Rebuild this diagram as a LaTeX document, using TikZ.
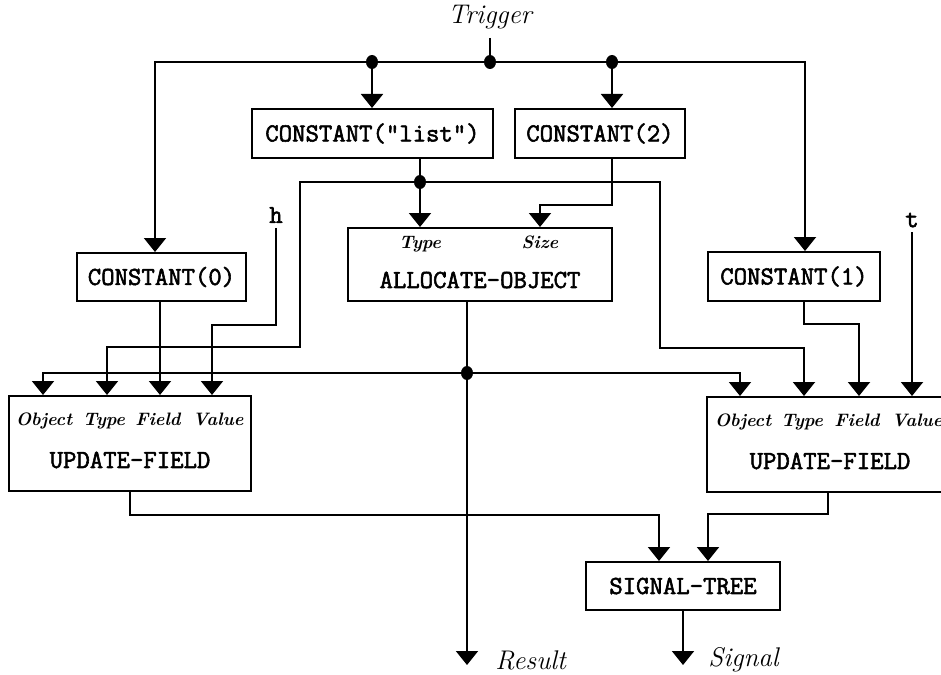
\documentclass[tikz,border=0pt]{standalone}
\usepackage{fontspec}
\usetikzlibrary{arrows.meta}
\newfontfamily\boxfont{Latin Modern Mono}[FakeBold=2.2]
\def\jdot#1{\fill (#1) circle[x radius=3pt, y radius=3.5pt];}
\tikzset{
  box/.style={draw, line width=1pt, inner sep=0pt, font=\boxfont\bfseries\fontsize{13}{15}\selectfont},
  var/.style={inner sep=0pt, outer sep=2.5pt, font=\boxfont\bfseries\fontsize{13}{15}\selectfont},
  port/.style={inner sep=0pt, anchor=base, font=\bfseries\itshape\fontsize{9}{10}\selectfont},
  io/.style={inner sep=0pt, font=\itshape\fontsize{13.5}{15}\selectfont},
  wire/.style={line width=1pt},
  feed/.style={wire, -{Triangle[width=11pt,length=7pt]}},
}

\begin{document}
\begin{tikzpicture}[x=0.5pt, y=-0.5pt]
  \useasboundingbox (0,0) rectangle (941,674);

  \node[io, outer sep=4.5pt] (trig) at (490,17) {Trigger};
  \node[box, minimum width=120.5pt, minimum height=24.5pt] (cList) at (372.5,133.5) {CONSTANT("list")};
  \node[box, minimum width=85pt, minimum height=24.5pt] (cTwo) at (600,133.5) {CONSTANT(2)};
  \node[box, minimum width=84.5pt, minimum height=24pt] (cZero) at (161.5,277) {CONSTANT(0)};
  \node[box, minimum width=86pt, minimum height=24.5pt] (cOne) at (794,276.5) {CONSTANT(1)};
  \node[box, minimum width=132pt, minimum height=36.5pt] (alloc) at (480,264.5) {};
  \node[box, minimum width=121pt, minimum height=47.5pt] (updL) at (130,443.5) {};
  \node[box, minimum width=121pt, minimum height=47.5pt] (updR) at (828,444.5) {};
  \node[box, minimum width=97pt, minimum height=24pt] (sigT) at (683,586) {SIGNAL-TREE};

  % texts inside the boxes
  \node[port] (aType) at (420,248) {Type};
  \node[port] (aSize) at (540,248) {Size};
  \node[var] (aName) at (480,280) {ALLOCATE-OBJECT};
  \node[port] (lObj) at (44,425) {Object};
  \node[port] (lType) at (104,425) {Type};
  \node[port] (lField) at (158,425) {Field};
  \node[port] (lVal) at (218,425) {Value};
  \node[var] (lName) at (130,460) {UPDATE-FIELD};
  \node[port] (rObj) at (743,426) {Object};
  \node[port] (rType) at (802,426) {Type};
  \node[port] (rField) at (857,426) {Field};
  \node[port] (rVal) at (917,426) {Value};
  \node[var] (rName) at (830,461) {UPDATE-FIELD};

  \node[var] (hVar) at (276,215) {h};
  \node[var] (tVar) at (912,220) {t};
  \node[io, anchor=west] (resOut) at (495,660) {Result};
  \node[io, anchor=west] (sigOut) at (708,660) {Signal};

  % junctions and bends
  \coordinate (jTrig) at (490,62);
  \coordinate (jList) at (372,62);
  \coordinate (jTwo) at (612,62);
  \coordinate (bL) at (155,62);
  \coordinate (bR) at (805,62);
  \coordinate (jType) at (420,182);
  \coordinate (bTypeL) at (300,182);
  \coordinate (bTypeR) at (660,182);
  \coordinate (pSize) at (540,205);
  \coordinate (jObj) at (467,373);
  \coordinate (resEnd) at (467,665);
  \coordinate (pLobj) at (43,373);
  \coordinate (pLtype) at (107,347);
  \coordinate (pLfield) at (160,396);
  \coordinate (pLval) at (212,325);
  \coordinate (pRobj) at (740,373);
  \coordinate (pRtype) at (804,348);
  \coordinate (pRfield) at (859,324);
  \coordinate (sLin) at (659,515);
  \coordinate (sRin) at (708,514);

  % trigger
  \draw[wire] (trig.south) -- (jTrig);
  \draw[feed] (jTrig) -- (bL) -- (bL |- cZero.north);
  \draw[feed] (jTrig) -- (bR) -- (bR |- cOne.north);
  \draw[feed] (jList) -- (jList |- cList.north);
  \draw[feed] (jTwo) -- (jTwo |- cTwo.north);
  \jdot{jTrig} \jdot{jList} \jdot{jTwo}

  % type and size
  \draw[wire] (jType |- cList.south) -- (jType);
  \draw[feed] (jType) -- (jType |- alloc.north);
  \draw[feed] (jType) -- (bTypeL) |- (pLtype) -- (pLtype |- updL.north);
  \draw[feed] (jType) -- (bTypeR) |- (pRtype) -- (pRtype |- updR.north);
  \draw[feed] (cTwo.south -| jTwo) |- (pSize) -- (pSize |- alloc.north);
  \jdot{jType}

  % fields and values
  \draw[feed] (cZero.south -| pLfield) -- (pLfield |- updL.north);
  \draw[feed] (hVar.south) |- (pLval) -- (pLval |- updL.north);
  \draw[feed] (cOne.south -| pRtype) |- (pRfield) -- (pRfield |- updR.north);
  \draw[feed] (tVar.south) -- (tVar.south |- updR.north);

  % object
  \draw[feed] (alloc.south -| jObj) -- (jObj) -- (resEnd);
  \draw[feed] (jObj) -| (pLobj |- updL.north);
  \draw[feed] (jObj) -| (pRobj |- updR.north);
  \jdot{jObj}

  % signal
  \draw[feed] (updL.south) |- (sLin) -- (sLin |- sigT.north);
  \draw[feed] (updR.south) |- (sRin) -- (sRin |- sigT.north);
  \draw[feed] (sigT.south) -- (sigT.south |- resEnd);
\end{tikzpicture}
\end{document}
